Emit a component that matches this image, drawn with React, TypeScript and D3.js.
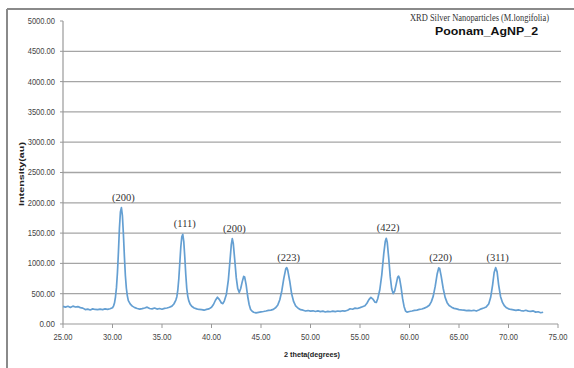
import React from 'react';
import * as d3 from 'd3';

const width = 574;
const height = 368;
const margin = { top: 21, right: 15, bottom: 44, left: 63 };

// 2 theta (degrees)
const theta = [
  25.0, 25.25, 25.5, 25.75, 26.0, 26.25, 26.5, 26.75, 27.0, 27.25, 27.5, 27.75, 28.0, 28.25, 28.5, 28.75,
  29.0, 29.25, 29.5, 29.75, 30.0, 30.1, 30.2, 30.3, 30.4, 30.5, 30.6, 30.7, 30.8, 30.9, 31.0, 31.1,
  31.2, 31.3, 31.4, 31.5, 31.6, 31.8, 32.0, 32.25, 32.5, 32.75, 33.0, 33.25, 33.5, 33.75, 34.0, 34.25,
  34.5, 34.75, 35.0, 35.25, 35.5, 35.75, 36.0, 36.2, 36.4, 36.5, 36.6, 36.7, 36.8, 36.9, 37.0, 37.1,
  37.2, 37.3, 37.4, 37.5, 37.6, 37.7, 37.85, 38.0, 38.25, 38.5, 38.75, 39.0, 39.25, 39.5, 39.75, 40.0,
  40.2, 40.4, 40.6, 40.8, 41.0, 41.15, 41.3, 41.5, 41.7, 41.85, 42.0, 42.1, 42.2, 42.35, 42.5, 42.65,
  42.8, 42.95, 43.1, 43.25, 43.35, 43.5, 43.65, 43.8, 43.95, 44.1, 44.25, 44.5, 44.75, 45.0, 45.25, 45.5,
  45.75, 46.0, 46.25, 46.5, 46.7, 46.9, 47.1, 47.3, 47.5, 47.6, 47.7, 47.9, 48.1, 48.3, 48.5, 48.75,
  49.0, 49.25, 49.5, 49.75, 50.0, 50.25, 50.5, 50.75, 51.0, 51.25, 51.5, 51.75, 52.0, 52.25, 52.5, 52.75,
  53.0, 53.25, 53.5, 53.75, 54.0, 54.25, 54.5, 54.75, 55.0, 55.25, 55.5, 55.7, 55.9, 56.1, 56.3, 56.5,
  56.65, 56.8, 57.0, 57.2, 57.4, 57.55, 57.65, 57.75, 57.9, 58.05, 58.2, 58.35, 58.5, 58.65, 58.8, 58.9,
  59.0, 59.15, 59.3, 59.45, 59.6, 59.75, 60.0, 60.25, 60.5, 60.75, 61.0, 61.25, 61.5, 61.75, 62.0, 62.2,
  62.4, 62.6, 62.8, 62.95, 63.05, 63.2, 63.4, 63.6, 63.8, 64.0, 64.25, 64.5, 64.75, 65.0, 65.25, 65.5,
  65.75, 66.0, 66.25, 66.5, 66.75, 67.0, 67.25, 67.5, 67.75, 68.0, 68.2, 68.4, 68.55, 68.7, 68.85, 69.0,
  69.2, 69.4, 69.6, 69.8, 70.0, 70.25, 70.5, 70.75, 71.0, 71.25, 71.5, 71.75, 72.0, 72.25, 72.5, 72.75,
  73.0, 73.25, 73.5,
];

// intensity (au)
const intensity = [
  290, 278, 292, 272, 295, 280, 288, 270, 262, 238, 246, 232, 250, 240, 236, 246,
  238, 250, 242, 252, 268, 295, 345, 445, 600, 850, 1190, 1580, 1850, 1920, 1790, 1490,
  1120, 800, 590, 465, 385, 328, 295, 270, 256, 246, 254, 264, 278, 256, 250, 264,
  246, 256, 244, 258, 264, 276, 295, 330, 395, 450, 565, 750, 1010, 1270, 1440, 1480,
  1360, 1110, 820, 590, 460, 385, 325, 292, 264, 250, 240, 238, 228, 242, 250, 276,
  322, 392, 442, 402, 346, 336, 382, 485, 725, 1010, 1310, 1410, 1330, 1055, 765, 585,
  520, 585, 695, 785, 775, 645, 462, 322, 240, 212, 194, 184, 192, 200, 206, 214,
  224, 230, 242, 272, 315, 400, 545, 750, 910, 930, 890, 710, 495, 368, 300, 260,
  236, 228, 214, 222, 212, 218, 206, 216, 204, 212, 198, 208, 202, 212, 204, 214,
  208, 218, 214, 228, 252, 244, 262, 256, 270, 286, 302, 342, 402, 440, 412, 362,
  356, 422, 565, 810, 1160, 1360, 1414, 1350, 1090, 785, 582, 502, 542, 655, 770, 790,
  748, 605, 422, 290, 214, 196, 206, 214, 224, 230, 242, 248, 262, 280, 310, 365,
  460, 625, 830, 925, 915, 790, 590, 440, 352, 306, 278, 258, 250, 238, 232, 228,
  220, 226, 218, 226, 214, 230, 250, 264, 282, 330, 440, 650, 850, 930, 860, 650,
  450, 352, 298, 268, 250, 240, 232, 224, 232, 222, 214, 226, 212, 208, 216, 196,
  202, 186, 194,
];

// Miller indices annotated on the peaks
const peakLabels = ['(200)', '(111)', '(200)', '(223)', '(422)', '(220)', '(311)'];
const peakTheta = [30.9, 37.1, 42.1, 47.6, 57.65, 62.95, 68.7];
const peakValue = [1920, 1480, 1410, 930, 1414, 925, 930];

const yTicks = d3.range(0, 5001, 500);
const xTicks = d3.range(25, 76, 5);

const x = d3.scaleLinear().domain([25, 75]).range([margin.left, width - margin.right - 1]);
const y = d3.scaleLinear().domain([0, 5000]).range([height - margin.bottom, margin.top]);
const fmt = d3.format('.2f');

export default function App() {
  const data = theta.map((t, i) => [t, intensity[i]] as [number, number]);
  const line = d3
    .line<[number, number]>()
    .x(d => x(d[0]))
    .y(d => y(d[1]));
  const y0 = y(0);
  const tickFont = { fontFamily: 'Liberation Sans, Arial, sans-serif', fontSize: 8.5, fill: '#444' };

  return (
    <svg
      width={width}
      height={height}
      style={{ position: 'absolute', left: 0, top: 0, background: '#fff' }}
    >
      {/* frame */}
      <line x1={7} x2={width} y1={9} y2={9} stroke="#8a8a8a" strokeWidth={2} />
      <line x1={7} x2={7} y1={9} y2={height} stroke="#8a8a8a" strokeWidth={2} />

      {/* gridlines */}
      {yTicks.slice(1, -1).map(t => (
        <line key={'g' + t} x1={x(25)} x2={x(75) + 3} y1={y(t)} y2={y(t)} stroke="#a5a5a5" strokeWidth={1.3} />
      ))}

      {/* y axis */}
      <line x1={x(25)} x2={x(25)} y1={y(5000)} y2={y0} stroke="#999" strokeWidth={1.2} />
      {yTicks.map(t => (
        <g key={'y' + t}>
          <line x1={x(25) - 3} x2={x(25)} y1={y(t)} y2={y(t)} stroke="#999" />
          <text
            x={x(25) - 8}
            y={y(t)}
            dy="0.35em"
            textAnchor="end"
            textLength={fmt(t).length * 3.9}
            lengthAdjust="spacingAndGlyphs"
            style={tickFont}
          >
            {fmt(t)}
          </text>
        </g>
      ))}

      {/* x axis */}
      <line x1={x(25)} x2={x(75)} y1={y0} y2={y0} stroke="#999" strokeWidth={1.2} />
      {xTicks.map(t => (
        <g key={'x' + t}>
          <line x1={x(t)} x2={x(t)} y1={y0} y2={y0 + 4} stroke="#999" />
          <text
            x={x(t)}
            y={y0 + 16}
            textAnchor="middle"
            textLength={fmt(t).length * 3.8}
            lengthAdjust="spacingAndGlyphs"
            style={tickFont}
          >
            {fmt(t)}
          </text>
        </g>
      ))}

      {/* pattern */}
      <path d={line(data) || ''} fill="none" stroke="#649fd2" strokeWidth={1.7} strokeLinejoin="round" />

      {/* peak labels */}
      {peakLabels.map((l, i) => (
        <text
          key={'p' + i}
          x={x(peakTheta[i]) + 2}
          y={y(peakValue[i]) - 7}
          textAnchor="middle"
          style={{ fontFamily: 'Liberation Serif, Times New Roman, serif', fontSize: 10.5, fill: '#333' }}
        >
          {l}
        </text>
      ))}

      {/* titles */}
      <text
        x={549}
        y={21}
        textAnchor="end"
        textLength={139}
        lengthAdjust="spacingAndGlyphs"
        style={{ fontFamily: 'Liberation Serif, Times New Roman, serif', fontSize: 10, fill: '#333' }}
      >
        XRD Silver Nanoparticles (M.longifolia)
      </text>
      <text
        x={538}
        y={35}
        textAnchor="end"
        textLength={103}
        lengthAdjust="spacingAndGlyphs"
        style={{ fontFamily: 'Liberation Sans, Arial, sans-serif', fontSize: 11.5, fontWeight: 'bold', fill: '#111' }}
      >
        Poonam_AgNP_2
      </text>

      {/* axis titles */}
      <text
        x={312}
        y={357}
        textAnchor="middle"
        textLength={56}
        lengthAdjust="spacingAndGlyphs"
        style={{ fontFamily: 'Liberation Sans, Arial, sans-serif', fontSize: 8, fontWeight: 'bold', fill: '#222' }}
      >
        2 theta(degrees)
      </text>
      <text
        transform={`translate(24, 174) rotate(-90)`}
        textAnchor="middle"
        textLength={64}
        lengthAdjust="spacingAndGlyphs"
        style={{ fontFamily: 'Liberation Sans, Arial, sans-serif', fontSize: 7.5, fontWeight: 'bold', fill: '#222' }}
      >
        Intensity(au)
      </text>
    </svg>
  );
}
